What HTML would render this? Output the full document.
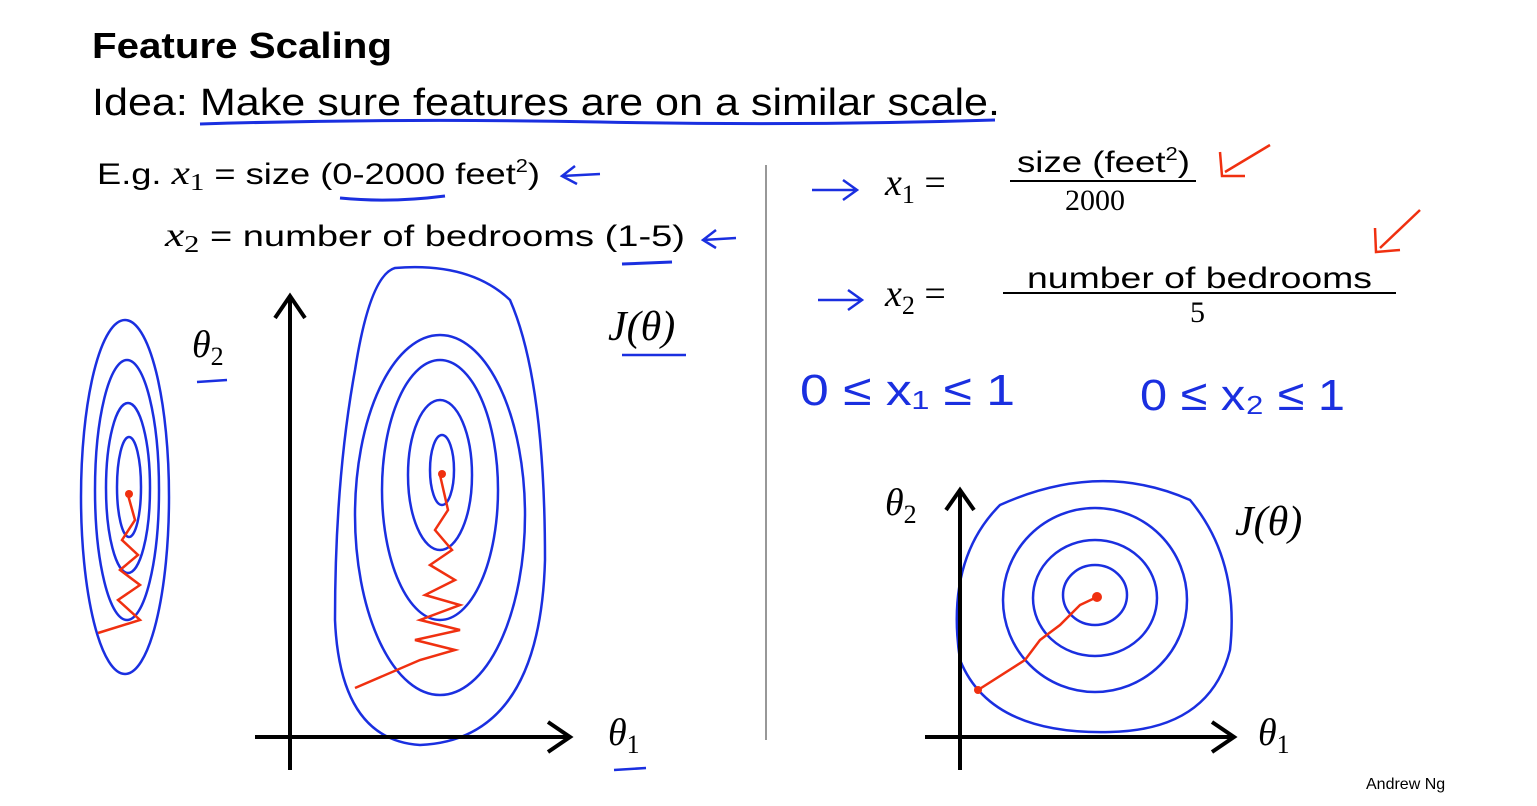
<!DOCTYPE html>
<html><head><meta charset="utf-8"><style>
html,body{margin:0;padding:0;background:#fff;}
svg{display:block}
.s{font-family:"Liberation Sans",sans-serif;}
.m{font-family:"Liberation Serif",serif;font-style:italic;}
.r{font-family:"Liberation Serif",serif;}
</style></head><body>
<svg width="1537" height="806" viewBox="0 0 1537 806" xmlns="http://www.w3.org/2000/svg">
<rect width="1537" height="806" fill="#fff"/>
<text x="92" y="58" class="s" font-size="36" font-weight="bold" textLength="300" lengthAdjust="spacingAndGlyphs">Feature Scaling</text>
<text x="92" y="115" class="s" font-size="38" textLength="908" lengthAdjust="spacingAndGlyphs">Idea: Make sure features are on a similar scale.</text>
<path d="M200 124 Q400 118 600 122 T995 120" stroke="#1a2fe0" stroke-width="3" fill="none"/>
<text x="97" y="184" class="s" font-size="30" textLength="443" lengthAdjust="spacingAndGlyphs">E.g. <tspan class="m" font-size="34">x</tspan><tspan class="r" font-size="24" dy="6">1</tspan><tspan dy="-6"> = size (0-2000 feet</tspan><tspan font-size="18" dy="-12">2</tspan><tspan dy="12">)</tspan></text>
<path d="M340 198 Q390 203 445 196" stroke="#1a2fe0" stroke-width="3" fill="none"/>
<path d="M600 174 L562 176 M575 166 L562 176 L577 184" stroke="#1a2fe0" stroke-width="2.5" fill="none"/>
<text x="165" y="246" class="s" font-size="30" textLength="520" lengthAdjust="spacingAndGlyphs"><tspan class="m" font-size="34">x</tspan><tspan class="r" font-size="24" dy="6">2</tspan><tspan dy="-6"> = number of bedrooms (1-5)</tspan></text>
<path d="M622 264 L672 262" stroke="#1a2fe0" stroke-width="3"/>
<path d="M736 238 L703 240 M716 230 L703 240 L716 248" stroke="#1a2fe0" stroke-width="2.5" fill="none"/>
<line x1="766" y1="165" x2="766" y2="740" stroke="#777" stroke-width="1.5"/>
<path d="M812 190 L855 190 M843 180 L857 190 L843 200" stroke="#1a2fe0" stroke-width="2.5" fill="none"/>
<text x="885" y="195" class="m" font-size="38">x<tspan class="r" font-size="26" dy="8" font-style="normal">1</tspan><tspan dy="-8" font-style="normal"> =</tspan></text>
<text x="1017" y="172" class="s" font-size="30" textLength="173" lengthAdjust="spacingAndGlyphs">size (feet<tspan font-size="18" dy="-12">2</tspan><tspan dy="12">)</tspan></text>
<line x1="1010" y1="181" x2="1196" y2="181" stroke="#000" stroke-width="2"/>
<text x="1065" y="210" class="r" font-size="30">2000</text>
<path d="M1270 145 L1225 172 M1220 152 L1222 176 L1245 176" stroke="#f03010" stroke-width="2.5" fill="none"/>
<path d="M1420 210 L1380 248 M1375 228 L1376 252 L1400 250" stroke="#f03010" stroke-width="2.5" fill="none"/>
<path d="M818 300 L860 300 M848 290 L862 300 L848 310" stroke="#1a2fe0" stroke-width="2.5" fill="none"/>
<text x="885" y="306" class="m" font-size="38">x<tspan class="r" font-size="26" dy="8" font-style="normal">2</tspan><tspan dy="-8" font-style="normal"> =</tspan></text>
<text x="1027" y="288" class="s" font-size="30" textLength="345" lengthAdjust="spacingAndGlyphs">number of bedrooms</text>
<line x1="1003" y1="293" x2="1396" y2="293" stroke="#000" stroke-width="2"/>
<text x="1190" y="322" class="r" font-size="30">5</text>
<text x="800" y="405" font-family="Liberation Sans,sans-serif" font-size="44" fill="#1a2fe0" textLength="215" lengthAdjust="spacingAndGlyphs">0 ≤ x₁ ≤ 1</text>
<text x="1140" y="410" font-family="Liberation Sans,sans-serif" font-size="44" fill="#1a2fe0" textLength="205" lengthAdjust="spacingAndGlyphs">0 ≤ x₂ ≤ 1</text>
<g stroke="#1a2fe0" stroke-width="2.5" fill="none">
<ellipse cx="125" cy="497" rx="44" ry="177"/>
<ellipse cx="127" cy="490" rx="32" ry="130"/>
<ellipse cx="128" cy="488" rx="22" ry="85"/>
<ellipse cx="129" cy="487" rx="12" ry="50"/>
<path d="M395 268 Q470 262 510 300 Q545 380 545 560 Q540 740 420 745 Q340 740 335 620 Q335 480 355 370 Q370 275 395 268 Z"/>
<ellipse cx="440" cy="515" rx="85" ry="180"/>
<ellipse cx="440" cy="490" rx="58" ry="130"/>
<ellipse cx="440" cy="475" rx="32" ry="75"/>
<ellipse cx="442" cy="470" rx="12" ry="35"/>
<path d="M1000 505 Q1100 460 1190 500 Q1240 560 1230 650 Q1210 730 1110 732 Q990 735 960 660 Q945 560 1000 505 Z"/>
<circle cx="1095" cy="600" r="92"/>
<ellipse cx="1095" cy="598" rx="62" ry="58"/>
<ellipse cx="1095" cy="595" rx="32" ry="30"/>
</g>
<g stroke="#f03010" stroke-width="2.5" fill="none">
<path d="M98 633 L140 620 L118 600 L140 585 L120 570 L138 555 L122 540 L135 520 L128 495"/>
<path d="M355 688 L420 660 L455 650 L415 640 L460 630 L420 620 L460 605 L425 595 L455 580 L430 565 L452 550 L435 530 L448 510 L440 475"/>
<path d="M978 690 L1025 660 L1040 640 L1060 625 L1080 605 L1097 597"/>
</g>
<circle cx="129" cy="494" r="4" fill="#f03010"/><circle cx="442" cy="474" r="4" fill="#f03010"/>
<circle cx="1097" cy="597" r="5" fill="#f03010"/><circle cx="978" cy="690" r="4" fill="#f03010"/>
<g stroke="#000" stroke-width="4" fill="none">
<path d="M290 770 L290 298 M275 318 L290 296 L305 318"/>
<path d="M255 737 L568 737 M548 722 L570 737 L548 752"/>
<path d="M960 770 L960 492 M946 510 L960 490 L974 510"/>
<path d="M925 737 L1232 737 M1212 722 L1234 737 L1212 752"/>
</g>
<text x="192" y="357" class="m" font-size="38">θ<tspan class="r" font-size="26" dy="8" font-style="normal">2</tspan></text>
<path d="M197 382 L227 380" stroke="#1a2fe0" stroke-width="2.5"/>
<text x="608" y="340" class="m" font-size="42">J(θ)</text>
<path d="M622 355 L686 355" stroke="#1a2fe0" stroke-width="2.5"/>
<text x="608" y="745" class="m" font-size="38">θ<tspan class="r" font-size="26" dy="8" font-style="normal">1</tspan></text>
<path d="M614 770 L646 768" stroke="#1a2fe0" stroke-width="2.5"/>
<text x="885" y="515" class="m" font-size="38">θ<tspan class="r" font-size="26" dy="8" font-style="normal">2</tspan></text>
<text x="1235" y="535" class="m" font-size="42">J(θ)</text>
<text x="1258" y="745" class="m" font-size="38">θ<tspan class="r" font-size="26" dy="8" font-style="normal">1</tspan></text>
<text x="1366" y="789" class="s" font-size="16">Andrew Ng</text>
</svg>
</body></html>
